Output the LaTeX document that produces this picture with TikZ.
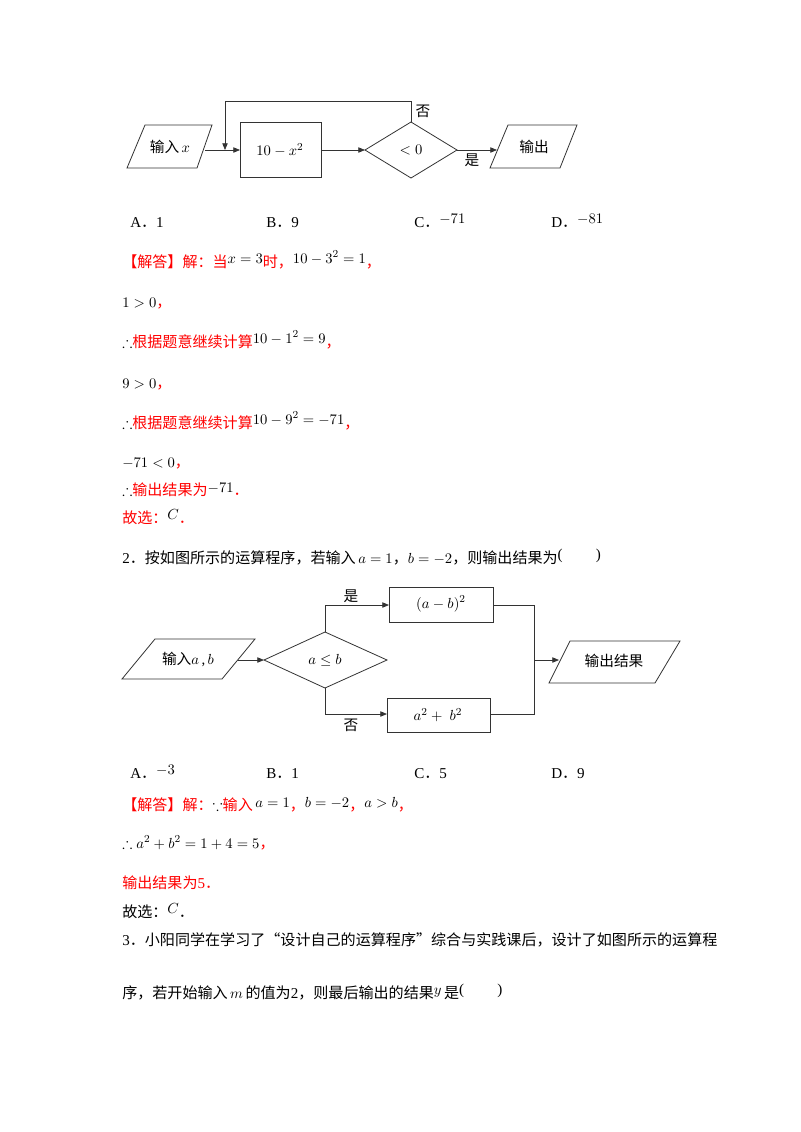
\documentclass[tikz,border=0pt]{standalone}
\usepackage{amssymb}
\usepackage{fontspec}
\setmainfont{Liberation Serif}
\newfontfamily\cjk{Noto Sans CJK SC}
\newcommand\zh[1]{{\cjk #1}}
\newcommand\rcomma{\textcolor{red}{\zh{，}}}
\newcommand\rdot{\textcolor{red}{\zh{．}}}
\usetikzlibrary{arrows.meta}
\begin{document}
\begin{tikzpicture}[x=0.75pt,y=-0.75pt,
  box/.style={draw=black!80,line width=0.6pt},
  conn/.style={draw=black!80,line width=0.6pt},
  arr/.style={conn,-{Triangle[length=5pt,width=4pt]}},
  txt/.style={anchor=base west,inner sep=0pt,font=\fontsize{11.3}{13}\selectfont},
  lbl/.style={inner sep=0pt,font=\fontsize{11}{13}\selectfont}]
\useasboundingbox[fill=white] (0,0) rectangle (800,1132);
% ---------- chart 1
\draw[box] (145,125) -- (212,125) -- (197,168) -- (127,168) -- cycle;
\node[lbl] (in1) at (170,147) {\zh{输入}\,$x$};
\draw[box] (240,122) rectangle (321,177);
\node[lbl] (f1) at (280,150) {$10-x^2$};
\draw[box] (365,150) -- (411,122) -- (457,150) -- (411,178) -- cycle;
\node[lbl] (d1) at (411,150) {$<0$};
\draw[box] (508,125) -- (577,125) -- (560,168) -- (490,168) -- cycle;
\node[lbl] (out1) at (534,147) {\zh{输出}};
\coordinate (in1r) at (205,150); \coordinate (f1l) at (240,150);
\coordinate (f1r) at (321,150); \coordinate (d1l) at (365,150);
\coordinate (d1r) at (457,150); \coordinate (out1l) at (497,150);
\coordinate (d1t) at (411,122); \coordinate (lp1) at (411,101);
\coordinate (lp2) at (225,101); \coordinate (lp3) at (225,150);
\draw[arr] (in1r) -- (f1l);
\draw[arr] (f1r) -- (d1l);
\draw[arr] (d1r) -- (out1l);
\draw[arr] (d1t) -- (lp1) -- (lp2) -- (lp3);
\node[lbl] (no1) at (423,111) {\zh{否}};
\node[lbl] (yes1) at (472,160) {\zh{是}};
\node[txt] (c1a) at (130,227) {A\zh{．}1};
\node[txt] (c1b) at (266,227) {B\zh{．}9};
\node[txt] (c1c) at (414,227) {C\zh{．}\raisebox{3pt}{$-71$}};
\node[txt] (c1d) at (551,227) {D\zh{．}\raisebox{3pt}{$-81$}};
% ---------- solution 1
\node[txt] (s1) at (122,267) {\textcolor{red}{\zh{【解答】解：当}}\raisebox{3pt}{$x=3$}\textcolor{red}{\zh{时，}}\raisebox{3pt}{$10-3^2=1$}\rcomma};
\node[txt] (s2) at (122,307) {$1>0$\rcomma};
\node[txt] (s3) at (122,347) {$\therefore$\textcolor{red}{\zh{根据题意继续计算}}\raisebox{3pt}{$10-1^2=9$}\rcomma};
\node[txt] (s4) at (122,388) {$9>0$\rcomma};
\node[txt] (s5) at (122,428) {$\therefore$\textcolor{red}{\zh{根据题意继续计算}}\raisebox{3pt}{$10-9^2=-71$}\rcomma};
\node[txt] (s6) at (122,467) {$-71<0$\rcomma};
\node[txt] (s7) at (122,495) {$\therefore$\textcolor{red}{\zh{输出结果为}}\raisebox{2pt}{$-71$}\rdot};
\node[txt] (s8) at (122,523) {\textcolor{red}{\zh{故选：}}\raisebox{3pt}{$C$}\rdot};
\node[txt] (q2) at (122,563) {2\zh{．按如图所示的运算程序，若输入}\,$a=1$\zh{，}$b=-2$\zh{，则输出结果为}\raisebox{3pt}{(}\hspace{2.2em}\raisebox{3pt}{)}};
% ---------- chart 2
\draw[box] (155,639) -- (255,639) -- (222,679) -- (122,679) -- cycle;
\node[lbl] (in2) at (188,659) {\zh{输入}$a$\,,\,$b$};
\draw[box] (264,660) -- (325,632) -- (387,660) -- (325,688) -- cycle;
\node[lbl] (d2) at (325,660) {$a\le b$};
\draw[box] (389,587) rectangle (493,622);
\node[lbl] (p2) at (441,604) {$(a-b)^2$};
\draw[box] (387,698) rectangle (490,732);
\node[lbl] (q2b) at (438,715) {$a^2+\;b^2$};
\draw[box] (570,641) -- (680,641) -- (655,683) -- (549,683) -- cycle;
\node[lbl] (out2) at (614,661) {\zh{输出结果}};
\coordinate (in2r) at (238,660); \coordinate (d2l) at (264,660);
\coordinate (d2t) at (325,632); \coordinate (y2) at (325,605); \coordinate (p2l) at (389,605);
\coordinate (d2b) at (325,688); \coordinate (n2) at (325,714); \coordinate (q2l) at (387,714);
\coordinate (p2r) at (493,605); \coordinate (m1) at (534,605);
\coordinate (q2r) at (490,714); \coordinate (m2) at (534,714);
\coordinate (m3) at (534,660); \coordinate (out2l) at (559,660);
\draw[arr] (in2r) -- (d2l);
\draw[arr] (d2t) -- (y2) -- (p2l);
\draw[arr] (d2b) -- (n2) -- (q2l);
\draw[conn] (p2r) -- (m1) -- (m2) -- (q2r);
\draw[arr] (m3) -- (out2l);
\node[lbl] (yes2) at (351,596) {\zh{是}};
\node[lbl] (no2) at (351,725) {\zh{否}};
\node[txt] (c2a) at (130,778) {A\zh{．}\raisebox{3pt}{$-3$}};
\node[txt] (c2b) at (266,778) {B\zh{．}1};
\node[txt] (c2c) at (414,778) {C\zh{．}5};
\node[txt] (c2d) at (551,778) {D\zh{．}9};
% ---------- solution 2
\node[txt] (t1) at (122,810) {\textcolor{red}{\zh{【解答】解：}}$\because$\textcolor{red}{\zh{输入}}\,\raisebox{2pt}{$a=1$}\rcomma\raisebox{2pt}{$b=-2$}\rcomma\raisebox{2pt}{$a>b$}\rcomma};
\node[txt] (t2) at (122,848) {$\therefore a^2+b^2=1+4=5$\rcomma};
\node[txt] (t3) at (122,888) {\textcolor{red}{\zh{输出结果为}5\zh{．}}};
\node[txt] (t4) at (122,917) {\zh{故选：}\raisebox{3pt}{$C$}\zh{．}};
\node[txt] (t5) at (122,945) {3\zh{．小阳同学在学习了“设计自己的运算程序”综合与实践课后，设计了如图所示的运算程}};
\node[txt] (t6) at (122,998) {\zh{序，若开始输入}\,$m$\,\zh{的值为}2\zh{，则最后输出的结果}\raisebox{3pt}{$y$}\,\zh{是}\raisebox{3pt}{(}\hspace{2.2em}\raisebox{3pt}{)}};
\end{tikzpicture}
\end{document}
